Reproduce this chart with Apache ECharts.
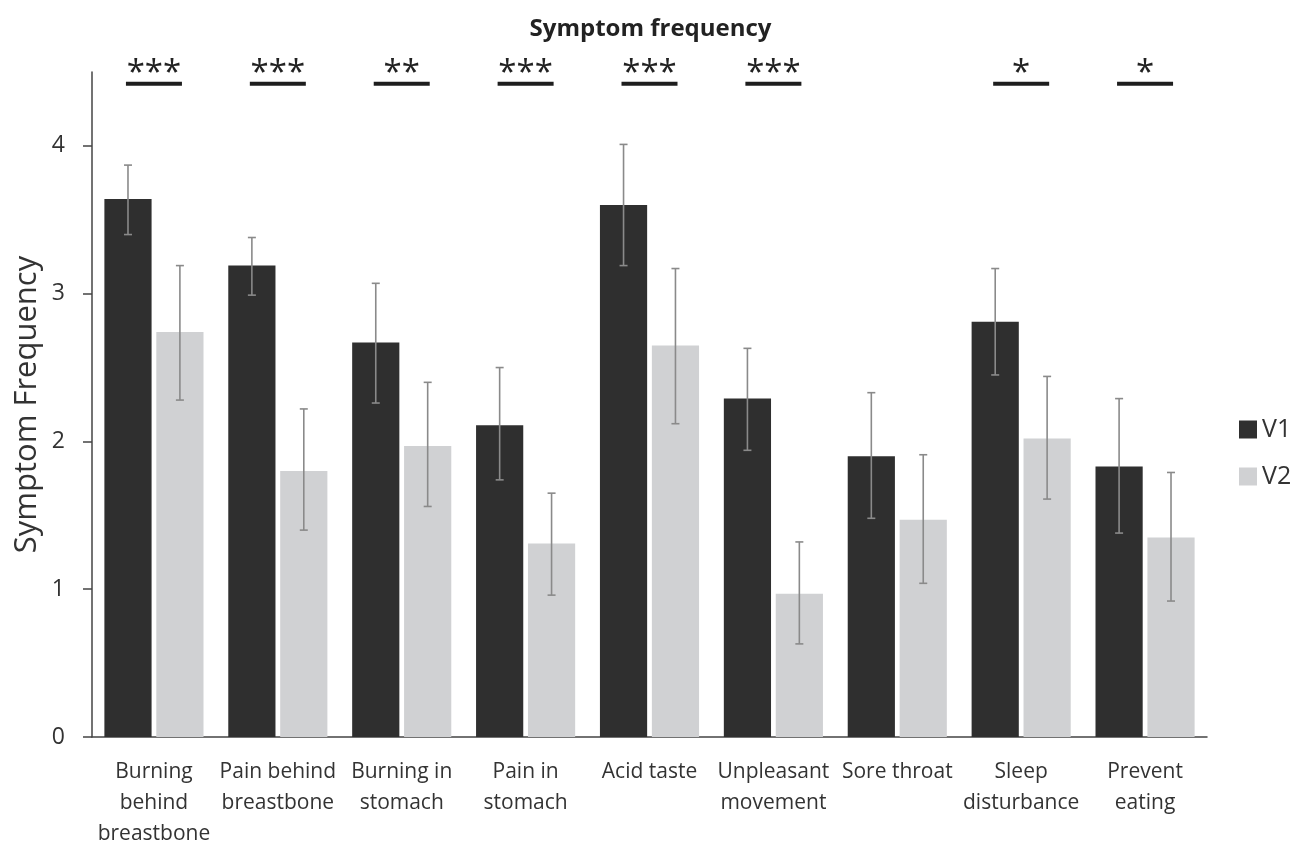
<!DOCTYPE html>
<html>
<head>
<meta charset="utf-8">
<script src="https://cdn.jsdelivr.net/npm/echarts@6/dist/echarts.min.js"></script>
<style>
  html, body { margin: 0; padding: 0; background: #fff; }
  #chart { width: 1301px; height: 843px; }
</style>
</head>
<body>
<div id="chart"></div>
<script>
var categories = [
  "Burning\nbehind\nbreastbone", "Pain behind\nbreastbone", "Burning in\nstomach",
  "Pain in\nstomach", "Acid taste", "Unpleasant\nmovement", "Sore throat",
  "Sleep\ndisturbance", "Prevent\neating"
];
var v1 = [3.64, 3.19, 2.67, 2.11, 3.60, 2.29, 1.90, 2.81, 1.83];
var v1Low = [3.40, 2.99, 2.26, 1.74, 3.19, 1.94, 1.48, 2.45, 1.38];
var v1High = [3.87, 3.38, 3.07, 2.50, 4.01, 2.63, 2.33, 3.17, 2.29];
var v2 = [2.74, 1.80, 1.97, 1.31, 2.65, 0.97, 1.47, 2.02, 1.35];
var v2Low = [2.28, 1.40, 1.56, 0.96, 2.12, 0.63, 1.04, 1.61, 0.92];
var v2High = [3.19, 2.22, 2.40, 1.65, 3.17, 1.32, 1.91, 2.44, 1.79];
var significance = ["***", "***", "**", "***", "***", "***", "", "*", "*"];
var yTicks = [0, 1, 2, 3, 4];

var font = "'Open Sans', 'Noto Sans', sans-serif";

function errorData(lo, hi) {
  return lo.map(function (l, i) { return [i, l, hi[i]]; });
}

// draws whisker at the V1 (side = -1) or V2 (side = 1) bar position
function errorRenderer(side) {
  return function (params, api) {
    var i = api.value(0);
    var lo = api.coord([i, api.value(1)]);
    var hi = api.coord([i, api.value(2)]);
    var band = api.size([1, 0])[0];
    var barW = band * 0.8 / 2.1;
    var x = lo[0] + side * barW * 0.55;
    var cap = 4;
    var st = { stroke: "#8a8a8a", lineWidth: 1.6 };
    return {
      type: "group",
      children: [
        { type: "line", shape: { x1: x, y1: lo[1], x2: x, y2: hi[1] }, style: st },
        { type: "line", shape: { x1: x - cap, y1: lo[1], x2: x + cap, y2: lo[1] }, style: st },
        { type: "line", shape: { x1: x - cap, y1: hi[1], x2: x + cap, y2: hi[1] }, style: st }
      ]
    };
  };
}

var chart = echarts.init(document.getElementById("chart"));
chart.setOption({
  backgroundColor: "#fff",
  animation: false,
  title: {
    text: "Symptom frequency",
    left: "center",
    top: 12,
    textStyle: { fontFamily: font, fontSize: 24, fontWeight: "bold", color: "#222" }
  },
  legend: {
    data: ["V1", "V2"],
    orient: "vertical",
    left: 1234,
    top: 412,
    icon: "rect",
    itemWidth: 18,
    itemHeight: 18,
    itemGap: 22,
    textStyle: { fontFamily: font, fontSize: 25, color: "#333" }
  },
  grid: { left: 92, right: 94, top: 72, bottom: 106, outerBoundsMode: "none", containLabel: false },
  xAxis: {
    type: "category",
    data: categories,
    axisLine: { lineStyle: { color: "#444", width: 1.5 } },
    axisTick: { show: false },
    axisLabel: {
      interval: 0,
      margin: 20,
      fontFamily: font,
      fontSize: 21,
      lineHeight: 31,
      color: "#333"
    }
  },
  yAxis: {
    type: "value",
    min: 0,
    max: 4.5,
    interval: 1,
    name: "Symptom Frequency",
    nameLocation: "center",
    nameGap: 49,
    nameMoveOverlap: false,
    nameTextStyle: { fontFamily: font, fontSize: 31, color: "#333" },
    splitLine: { show: false },
    axisLine: { show: true, lineStyle: { color: "#444", width: 1.5 } },
    axisTick: { show: true, length: 9, customValues: yTicks, lineStyle: { color: "#444", width: 1.5 } },
    axisLabel: { customValues: yTicks, margin: 27, fontFamily: font, fontSize: 23, color: "#333" }
  },
  series: [
    {
      name: "V1",
      type: "bar",
      data: v1,
      barGap: "10%",
      barCategoryGap: "20%",
      itemStyle: { color: "#2f2f2f" }
    },
    {
      name: "V2",
      type: "bar",
      data: v2,
      itemStyle: { color: "#d0d1d3" }
    },
    {
      name: "V1 error",
      type: "custom",
      data: errorData(v1Low, v1High),
      encode: { x: 0, y: [1, 2] },
      renderItem: errorRenderer(-1),
      z: 5
    },
    {
      name: "V2 error",
      type: "custom",
      data: errorData(v2Low, v2High),
      encode: { x: 0, y: [1, 2] },
      renderItem: errorRenderer(1),
      z: 5
    },
    {
      name: "significance",
      type: "custom",
      clip: false,
      data: significance.map(function (s, i) { return [i, s]; }),
      encode: { x: 0 },
      renderItem: function (params, api) {
        var i = api.value(0);
        var stars = significance[i];
        if (!stars) return null;
        var p = api.coord([i, 4.42]);
        var half = 28;
        return {
          type: "group",
          children: [
            {
              type: "line",
              shape: { x1: p[0] - half, y1: p[1], x2: p[0] + half, y2: p[1] },
              style: { stroke: "#1e1e1e", lineWidth: 4 }
            },
            {
              type: "text",
              x: p[0],
              y: p[1] + 6,
              style: {
                text: stars,
                textAlign: "center",
                textVerticalAlign: "bottom",
                fontFamily: font,
                fontSize: 33,
                fill: "#222"
              }
            }
          ]
        };
      },
      z: 6
    }
  ]
});
</script>
</body>
</html>
